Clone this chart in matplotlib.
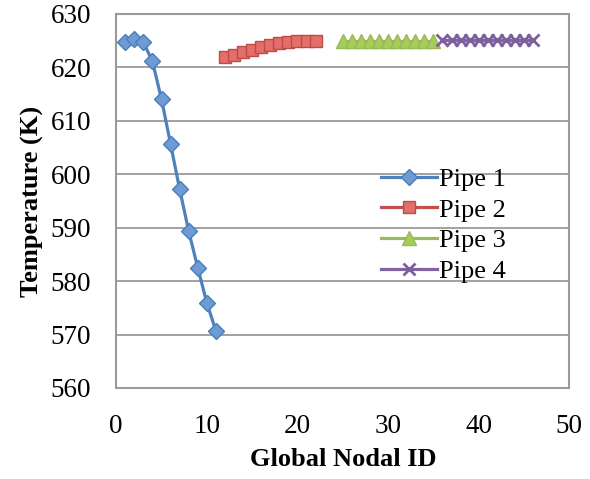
# %%
import matplotlib
matplotlib.use('Agg')
import matplotlib.pyplot as plt

# node ids and temperatures
pipe1_id = [1, 2, 3, 4, 5, 6, 7, 8, 9, 10, 11]
pipe1_temp = [624.8, 625.3, 624.7, 621.1, 614.0, 605.6, 597.2, 589.3, 582.5, 575.9, 570.7]

pipe2_id = [12, 13, 14, 15, 16, 17, 18, 19, 20, 21, 22]
pipe2_temp = [621.9, 622.3, 622.8, 623.3, 623.8, 624.2, 624.5, 624.7, 624.9, 625.0, 625.0]

pipe3_id = [25, 26, 27, 28, 29, 30, 31, 32, 33, 34, 35]
pipe3_temp = [625.0, 625.0, 625.0, 625.0, 625.0, 625.0, 625.0, 625.0, 625.0, 625.0, 625.0]

pipe4_id = [36, 37, 38, 39, 40, 41, 42, 43, 44, 45, 46]
pipe4_temp = [625.1, 625.1, 625.1, 625.1, 625.1, 625.1, 625.1, 625.1, 625.1, 625.1, 625.1]

plt.rcParams['font.family'] = ['Liberation Serif', 'DejaVu Serif']
plt.rcParams['xtick.major.size'] = 0
plt.rcParams['ytick.major.size'] = 0
plt.rcParams['xtick.major.pad'] = 19
plt.rcParams['ytick.major.pad'] = 18
plt.rcParams['xtick.labelsize'] = 19.5
plt.rcParams['ytick.labelsize'] = 19.5

fig = plt.figure(figsize = (5.9, 4.79), dpi = 100)
ax = fig.add_axes([0.197, 0.19, 0.768, 0.781])

ax.plot(pipe1_id, pipe1_temp, color = '#4F81BD', lw = 2.3, marker = 'D', ms = 8,
        mfc = '#6E9BD3', mec = '#4A7EBB', mew = 1.0, label = 'Pipe 1', zorder = 3)
ax.plot(pipe2_id, pipe2_temp, color = '#C0504D', lw = 2.3, marker = 's', ms = 9,
        mfc = '#E36E6A', mec = '#BE4B48', mew = 1.0, label = 'Pipe 2', zorder = 3)
ax.plot(pipe3_id, pipe3_temp, color = '#9BBB59', lw = 2.3, marker = '^', ms = 10,
        mfc = '#A6CC5C', mec = '#98B954', mew = 1.0, label = 'Pipe 3', zorder = 3)
ax.plot(pipe4_id, pipe4_temp, color = '#8064A2', lw = 2.3, marker = 'x', ms = 8,
        mec = '#7D5FA0', mew = 2.0, label = 'Pipe 4', zorder = 4)

ax.set_xlim(0, 50)
ax.set_ylim(560, 630)
ax.set_xticks([0, 10, 20, 30, 40, 50])
ax.set_yticks([560, 570, 580, 590, 600, 610, 620, 630])
ax.yaxis.grid(True, color = '#9A9A9A', lw = 1.3)
ax.set_axisbelow(True)
for s in ax.spines.values():
    s.set_color('#9A9A9A')
    s.set_linewidth(1.5)

ax.set_xlabel('Global Nodal ID', fontsize = 19, fontweight = 'bold', labelpad = 6)
ax.set_ylabel('Temperature (K)', fontsize = 19, fontweight = 'bold', labelpad = 5)

ax.legend(loc = 'upper left', bbox_to_anchor = (0.585, 0.59), frameon = False,
          fontsize = 19, handlelength = 2.1, labelspacing = 0.28,
          handletextpad = 0.1, borderaxespad = 0, borderpad = 0)

fig.savefig('out.png', dpi = 100)
